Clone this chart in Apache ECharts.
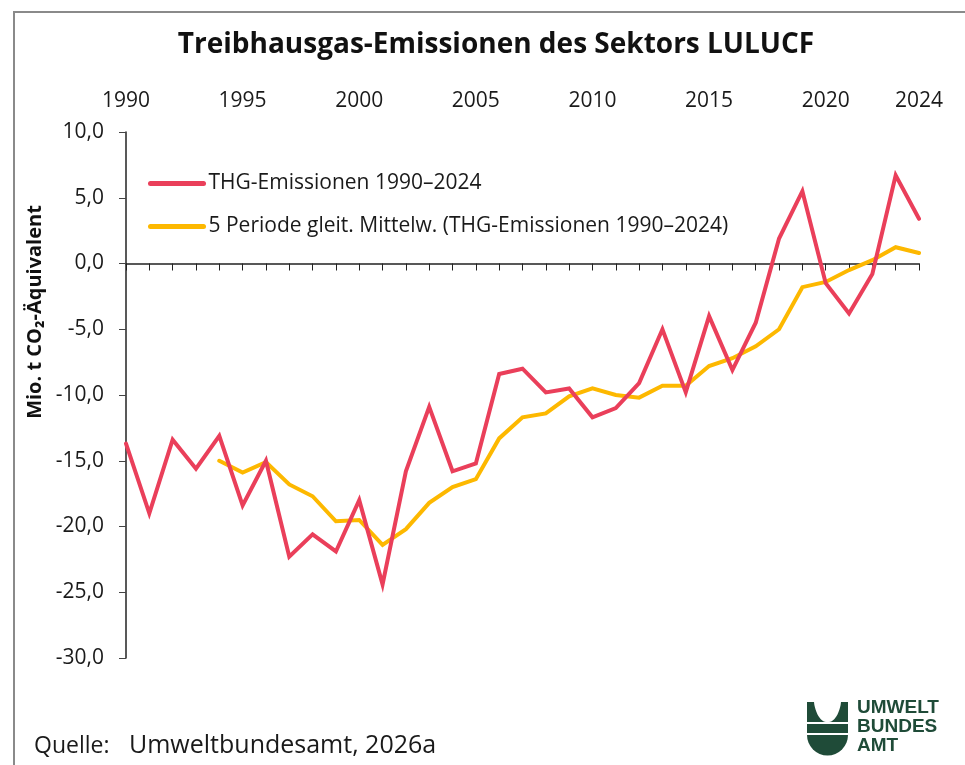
<!DOCTYPE html>
<html>
<head>
<meta charset="utf-8">
<title>Treibhausgas-Emissionen des Sektors LULUCF</title>
<script src="https://cdn.jsdelivr.net/npm/echarts@6/dist/echarts.min.js"></script>
<style>
  html, body { margin: 0; padding: 0; background: #fff; }
  #chart { width: 965px; height: 765px; }
</style>
</head>
<body>
<div id="chart"></div>
<script>
// Jahre 1990–2024
const years = ['1990','1991','1992','1993','1994','1995','1996','1997','1998','1999',
  '2000','2001','2002','2003','2004','2005','2006','2007','2008','2009',
  '2010','2011','2012','2013','2014','2015','2016','2017','2018','2019',
  '2020','2021','2022','2023','2024'];

// THG-Emissionen LULUCF, Mio. t CO2-Äquivalent
const emissions = [-13.7, -19.0, -13.4, -15.6, -13.1, -18.4, -15.0, -22.3, -20.6, -21.9,
  -18.0, -24.4, -15.8, -10.9, -15.8, -15.2, -8.4, -8.0, -9.8, -9.5,
  -11.7, -11.0, -9.1, -5.0, -9.8, -4.0, -8.1, -4.5, 1.9, 5.5,
  -1.5, -3.8, -0.8, 6.7, 3.4];

// gleitender Mittelwert über 5 Perioden (ab 1994)
const movingAvg = [null, null, null, null, -15.0, -15.9, -15.1, -16.8, -17.7, -19.6,
  -19.5, -21.4, -20.2, -18.2, -17.0, -16.4, -13.3, -11.7, -11.4, -10.1,
  -9.5, -10.0, -10.2, -9.3, -9.3, -7.8, -7.2, -6.3, -5.0, -1.8,
  -1.4, -0.5, 0.25, 1.24, 0.8];

const yTicks = { min: -30, max: 10, interval: 5 };
const topLabelYears = ['1990','1995','2000','2005','2010','2015','2020','2024'];

const seriesNames = ['THG-Emissionen 1990–2024', '5 Periode gleit. Mittelw. (THG-Emissionen 1990–2024)'];

const FONT = '"Open Sans", "Noto Sans", sans-serif';
const RED = '#ea3f5a';
const YELLOW = '#fdb800';
const GREEN = '#1f4b38';

// Blattform des Logos als Polygon (Bogen angenähert)
function leaf(mirror) {
  const pts = [];
  const steps = 12;
  for (let i = 0; i <= steps; i++) {
    const t = i / steps;
    const x = 7 + 12 * Math.pow(t, 1.4);
    const y = 20 * (1 - Math.pow(1 - t, 1.8));
    pts.push([mirror ? 41 - x : x, y]);
  }
  pts.push([mirror ? 41 : 0, 20]);
  pts.push([mirror ? 41 : 0, 0]);
  return pts;
}

const chart = echarts.init(document.getElementById('chart'), null, { renderer: 'canvas' });

chart.setOption({
  animation: false,
  backgroundColor: '#ffffff',
  textStyle: { fontFamily: FONT },
  title: {
    text: 'Treibhausgas-Emissionen des Sektors LULUCF',
    left: 491,
    top: 26,
    textAlign: 'center',
    textStyle: { fontFamily: FONT, fontSize: 28, fontWeight: 'bold', color: '#111' }
  },
  legend: {
    orient: 'vertical',
    left: 148,
    top: 173,
    padding: 0,
    itemWidth: 53,
    itemHeight: 16,
    itemGap: 22,
    itemStyle: { opacity: 0 },
    lineStyle: { width: 5, cap: 'round' },
    textStyle: { fontFamily: FONT, fontSize: 21, color: '#1a1a1a' },
    data: seriesNames
  },
  grid: { left: 126, right: 46, top: 132, bottom: 107, containLabel: false },
  xAxis: [
    {
      // Jahresbeschriftung oberhalb der Zeichenfläche
      type: 'category',
      position: 'top',
      data: years,
      boundaryGap: false,
      axisLine: { show: false, onZero: false },
      axisTick: { show: false },
      splitLine: { show: false },
      axisLabel: {
        interval: 0,
        margin: 20,
        fontFamily: FONT,
        fontSize: 21,
        color: '#1a1a1a',
        formatter: v => topLabelYears.indexOf(v) >= 0 ? v : ''
      }
    },
    {
      // Nulllinie mit Jahresstrichen
      type: 'category',
      position: 'bottom',
      data: years,
      boundaryGap: false,
      axisLine: { show: true, onZero: true, lineStyle: { color: '#222', width: 1.5 } },
      axisTick: { show: true, interval: 0, length: 7, lineStyle: { color: '#222', width: 1 } },
      axisLabel: { show: false },
      splitLine: { show: false }
    }
  ],
  yAxis: {
    type: 'value',
    min: yTicks.min,
    max: yTicks.max,
    interval: yTicks.interval,
    axisLine: { show: true, lineStyle: { color: '#222', width: 1.5 } },
    axisTick: { show: true, length: 7, lineStyle: { color: '#444', width: 1 } },
    splitLine: { show: false },
    axisLabel: {
      margin: 22,
      fontFamily: FONT,
      fontSize: 21,
      color: '#1a1a1a',
      formatter: v => v.toFixed(1).replace('.', ',')
    }
  },
  series: [
    {
      name: seriesNames[0],
      type: 'line',
      xAxisIndex: 1,
      data: emissions,
      symbol: 'none',
      lineStyle: { color: RED, width: 4, cap: 'round', join: 'miter' },
      itemStyle: { color: RED },
      z: 3
    },
    {
      name: seriesNames[1],
      type: 'line',
      xAxisIndex: 1,
      data: movingAvg,
      symbol: 'none',
      lineStyle: { color: YELLOW, width: 4, cap: 'round', join: 'miter' },
      itemStyle: { color: YELLOW },
      z: 2
    }
  ],
  graphic: [
    {
      // Rahmen
      type: 'rect',
      shape: { x: 14, y: 12, width: 1000, height: 800 },
      style: { fill: 'none', stroke: '#8a8a8a', lineWidth: 2 },
      silent: true
    },
    {
      // Achsentitel
      type: 'text',
      x: 35,
      y: 312,
      rotation: Math.PI / 2,
      style: {
        text: 'Mio. t CO₂-Äquivalent',
        fontFamily: FONT,
        fontSize: 20,
        fontWeight: 'bold',
        fill: '#111',
        align: 'center',
        verticalAlign: 'middle'
      }
    },
    {
      type: 'text',
      x: 34,
      y: 746,
      style: {
        text: 'Quelle:',
        fontFamily: FONT,
        fontSize: 23,
        fill: '#1a1a1a',
        verticalAlign: 'middle'
      }
    },
    {
      type: 'text',
      x: 129,
      y: 746,
      style: {
        text: 'Umweltbundesamt, 2026a',
        fontFamily: FONT,
        fontSize: 25,
        fill: '#1a1a1a',
        verticalAlign: 'middle'
      }
    },
    {
      // Logo-Bildmarke
      type: 'group',
      x: 807,
      y: 702,
      children: [
        { type: 'polygon', shape: { points: leaf(false) }, style: { fill: GREEN } },
        { type: 'polygon', shape: { points: leaf(true) }, style: { fill: GREEN } },
        { type: 'rect', shape: { x: 0, y: 22, width: 41, height: 9 }, style: { fill: GREEN } },
        { type: 'sector', shape: { cx: 20.5, cy: 33, r0: 0, r: 20.5, startAngle: 0, endAngle: Math.PI }, style: { fill: GREEN } }
      ]
    },
    {
      type: 'text',
      x: 857,
      y: 698,
      style: {
        text: 'UMWELT\nBUNDES\nAMT',
        fontFamily: '"Liberation Sans", Arial, sans-serif',
        fontWeight: 'bold',
        fontSize: 19,
        lineHeight: 19,
        fill: GREEN
      }
    }
  ]
});
</script>
</body>
</html>
